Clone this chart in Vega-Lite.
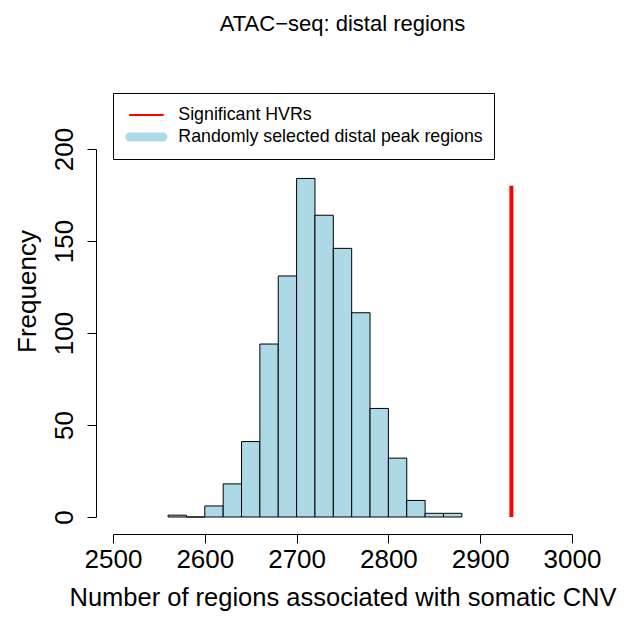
{
  "$schema": "https://vega.github.io/schema/vega-lite/v6.json",
  "width": 459,
  "height": 368,
  "autosize": {"type": "none"},
  "padding": {"left": 113, "top": 149, "right": 58, "bottom": 100},
  "background": "white",
  "title": {
    "text": "ATAC−seq: distal regions",
    "fontSize": 22,
    "fontWeight": "normal",
    "color": "black",
    "anchor": "middle",
    "frame": "group",
    "orient": "top",
    "offset": 57
  },
  "datasets": {
    "hist": [
      {"start": 2560, "end": 2580, "count": 1},
      {"start": 2580, "end": 2600, "count": 0},
      {"start": 2600, "end": 2620, "count": 6},
      {"start": 2620, "end": 2640, "count": 18},
      {"start": 2640, "end": 2660, "count": 41},
      {"start": 2660, "end": 2680, "count": 94},
      {"start": 2680, "end": 2700, "count": 131},
      {"start": 2700, "end": 2720, "count": 184},
      {"start": 2720, "end": 2740, "count": 164},
      {"start": 2740, "end": 2760, "count": 146},
      {"start": 2760, "end": 2780, "count": 111},
      {"start": 2780, "end": 2800, "count": 59},
      {"start": 2800, "end": 2820, "count": 32},
      {"start": 2820, "end": 2840, "count": 9},
      {"start": 2840, "end": 2860, "count": 2},
      {"start": 2860, "end": 2880, "count": 2}
    ],
    "hvr": [
      {"x": 2934, "y0": 0, "y1": 180, "series": "Significant HVRs"}
    ]
  },
  "layer": [
    {
      "data": {"name": "hist"},
      "mark": {"type": "rect", "fill": "#ADD8E6", "stroke": "black", "strokeWidth": 1},
      "encoding": {
        "x": {
          "field": "start",
          "type": "quantitative",
          "scale": {"domain": [2500, 3000], "nice": false, "zero": false},
          "axis": {
            "title": "Number of regions associated with somatic CNV",
            "values": [2500, 2600, 2700, 2800, 2900, 3000],
            "format": "d",
            "offset": 17,
            "tickSize": 9,
            "labelPadding": 24,
            "labelBaseline": "alphabetic",
            "labelFontSize": 26,
            "labelFlush": false,
            "labelOverlap": false,
            "titleFontSize": 25.5,
            "titleY": 71,
            "titleBaseline": "alphabetic"
          }
        },
        "x2": {"field": "end"},
        "y": {
          "field": "count",
          "type": "quantitative",
          "scale": {"domain": [0, 200], "nice": false},
          "axis": {
            "title": "Frequency",
            "values": [0, 50, 100, 150, 200],
            "format": "d",
            "offset": 17,
            "tickSize": 9,
            "labelAngle": -90,
            "labelAlign": "center",
            "labelBaseline": "alphabetic",
            "labelPadding": 15,
            "labelFontSize": 26,
            "labelFlush": false,
            "labelOverlap": false,
            "titleFontSize": 26,
            "titleAngle": -90,
            "titleAlign": "center",
            "titleBaseline": "alphabetic",
            "titleX": -61,
            "titleY": 142
          }
        },
        "y2": {"datum": 0}
      }
    },
    {
      "data": {"name": "hvr"},
      "mark": {"type": "rule", "strokeWidth": 4, "strokeCap": "butt"},
      "encoding": {
        "x": {"field": "x", "type": "quantitative"},
        "y": {"field": "y0", "type": "quantitative"},
        "y2": {"field": "y1"},
        "color": {
          "field": "series",
          "type": "nominal",
          "scale": {
            "domain": ["Significant HVRs", "Randomly selected distal peak regions"],
            "range": ["red", "#ADD8E6"]
          },
          "legend": {
            "title": null,
            "orient": "none",
            "legendX": 0,
            "legendY": -56,
            "symbolType": "stroke",
            "symbolSize": 1089,
            "symbolOffset": 13.5,
            "clipHeight": 22,
            "rowPadding": 0,
            "padding": 11,
            "labelOffset": 23,
            "labelFontSize": 17.8,
            "labelColor": "black",
            "labelLimit": 1000,
            "fillColor": "white",
            "strokeColor": "black",
            "encode": {
              "symbols": {
                "update": {
                  "stroke": {"signal": "datum.value === 'Significant HVRs' ? 'red' : '#ADD8E6'"},
                  "strokeWidth": {"signal": "datum.value === 'Significant HVRs' ? 2 : 9"},
                  "strokeCap": {"value": "round"},
                  "fill": {"value": "transparent"},
                  "opacity": {"value": 1}
                }
              }
            }
          }
        }
      }
    }
  ],
  "config": {
    "font": "Liberation Sans",
    "view": {"stroke": null},
    "axis": {
      "grid": false,
      "domainColor": "black",
      "tickColor": "black",
      "labelColor": "black",
      "titleColor": "black",
      "titleFontWeight": "normal",
      "domainWidth": 1,
      "tickWidth": 1
    }
  }
}
